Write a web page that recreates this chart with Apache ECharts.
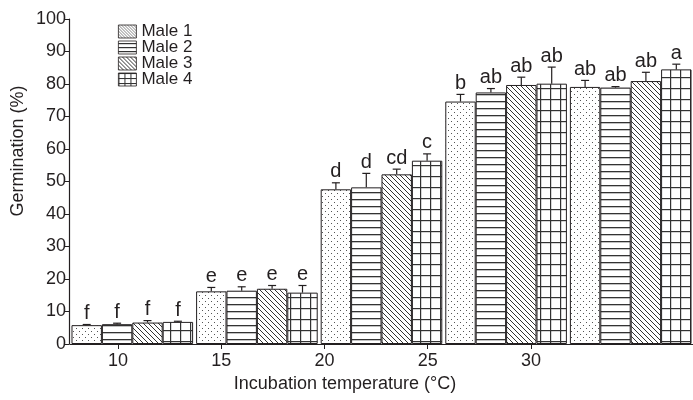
<!DOCTYPE html>
<html><head><meta charset="utf-8">
<script src="https://cdn.jsdelivr.net/npm/echarts@6/dist/echarts.min.js"></script>
<style>html,body{margin:0;padding:0;background:#fff}#c{width:693px;height:400px}</style>
</head><body><div id="c"></div>
<script>
// ---- data ----
const categories = ['10', '15', '20', '25', '30'];
const tickLabels = [10, 15, 20, 25, 30];
const seriesNames = ['Male 1', 'Male 2', 'Male 3', 'Male 4'];
const male1 = [5.8, 16.2, 47.6, 74.6, 79.1];
const male2 = [6.1, 16.4, 48.2, 77.4, 78.9];
const male3 = [6.6, 17.0, 52.2, 79.7, 80.9];
const male4 = [6.8, 15.8, 56.4, 80.1, 84.5];
const err1 = [0.2, 1.2, 2.0, 2.2, 2.0];
const err2 = [0.3, 1.2, 4.3, 1.2, 0.3];
const err3 = [0.6, 1.0, 1.6, 2.4, 2.7];
const err4 = [0.2, 2.2, 2.1, 5.1, 1.6];
const letters1 = ['f', 'e', 'd', 'b', 'ab'];
const letters2 = ['f', 'e', 'd', 'ab', 'ab'];
const letters3 = ['f', 'e', 'cd', 'ab', 'ab'];
const letters4 = ['f', 'e', 'c', 'ab', 'a'];
const xTitle = 'Incubation temperature (°C)';
const yTitle = 'Germination (%)';

const values = [male1, male2, male3, male4];
const errs = [err1, err2, err3, err4];
const letters = [letters1, letters2, letters3, letters4];

const INK = '#231f20';
const FONT = 'Liberation Sans, Arial, sans-serif';
const GAP = 0.024;

// ---- patterns ----
function makeCanvas(w, h, draw) {
  const c = document.createElement('canvas');
  c.width = w; c.height = h;
  const ctx = c.getContext('2d');
  ctx.fillStyle = '#fff'; ctx.fillRect(0, 0, w, h);
  ctx.fillStyle = INK; ctx.strokeStyle = INK;
  draw(ctx, w, h);
  return c;
}
const dots = makeCanvas(6, 6, (ctx) => {
  ctx.fillStyle = '#555';
  ctx.fillRect(1, 1, 1, 1); ctx.fillRect(4, 4, 1, 1);
});
const hlines = makeCanvas(8, 7, (ctx) => { ctx.fillStyle = '#333'; ctx.fillRect(0, 3, 8, 1.3); });
const hlinesLegend = makeCanvas(8, 4, (ctx) => { ctx.fillStyle = '#333'; ctx.fillRect(0, 2, 8, 1.2); });
function diag(step, lw, col) {
  return makeCanvas(step, step, (ctx, w, h) => {
    ctx.lineWidth = lw; ctx.strokeStyle = col;
    ctx.beginPath();
    ctx.moveTo(-w, -h); ctx.lineTo(2 * w, 2 * h);
    ctx.moveTo(-w, 0); ctx.lineTo(w, 2 * h);
    ctx.moveTo(0, -h); ctx.lineTo(2 * w, h);
    ctx.stroke();
  });
}
const diag1 = diag(5, 1, '#333');
const diagFine = diag(3, 0.8, '#666');
const diagLegend = diag(4, 1, '#333');
const gridPat = makeCanvas(10, 11, (ctx) => {
  ctx.fillStyle = '#333';
  ctx.fillRect(0, 0, 10, 1.2); ctx.fillRect(0, 0, 1.2, 11);
});
const gridLegend = makeCanvas(6, 5, (ctx) => {
  ctx.fillStyle = '#333';
  ctx.fillRect(0, 0, 6, 1); ctx.fillRect(0, 0, 1, 5);
});
const pat = (img) => ({ image: img, repeat: 'repeat' });
const barPatterns = [pat(dots), pat(hlines), pat(diag1), pat(gridPat)];
const legendPatterns = [pat(diagFine), pat(hlinesLegend), pat(diagLegend), pat(gridLegend)];

// ---- error bars + letters ----
const errData = [];
for (let s = 0; s < 4; s++) for (let c = 0; c < categories.length; c++)
  errData.push([c, s, values[s][c], errs[s][c]]);

const chart = echarts.init(document.getElementById('c'), null, { renderer: 'canvas' });
const xMin = 7.676, xMax = 37.85;

const option = {
  animation: false,
  backgroundColor: '#fff',
  textStyle: { fontFamily: FONT, color: INK },
  grid: { left: 70, right: 0, top: 19, bottom: 56, outerBoundsMode: 'none', containLabel: false },
  legend: {
    orient: 'vertical', left: 113, top: 18, itemWidth: 18, itemHeight: 13, itemGap: -1,
    textStyle: { fontSize: 17, lineHeight: 15, color: INK, fontFamily: FONT },
    data: seriesNames.map((n, i) => ({ name: n, icon: 'rect', itemStyle: { color: legendPatterns[i], borderColor: INK, borderWidth: 0.8 } }))
  },
  graphic: [{
    type: 'text', x: 18, y: 151, rotation: Math.PI / 2,
    style: { text: yTitle, fontSize: 18, fontFamily: FONT, fill: INK, align: 'center', verticalAlign: 'middle' }
  }],
  xAxis: [
    { type: 'category', data: categories, show: false },
    {
      type: 'value', position: 'bottom', min: xMin, max: xMax,
      name: xTitle, nameLocation: 'middle', nameGap: 29,
      nameTextStyle: { fontSize: 18, color: INK, padding: [0, 73, 0, 0] },
      axisLine: { show: true, lineStyle: { color: INK, width: 1.2 } },
      axisTick: { show: true, length: 5, lineStyle: { color: INK }, customValues: tickLabels },
      axisLabel: { fontSize: 18, color: INK, margin: 8, customValues: tickLabels },
      splitLine: { show: false }
    }
  ],
  yAxis: {
    type: 'value', min: 0, max: 100, interval: 10, offset: 1,
    axisLine: { show: true, lineStyle: { color: INK, width: 1.2 } },
    axisTick: { show: true, length: 5, lineStyle: { color: INK } },
    axisLabel: { fontSize: 18, color: INK, margin: 3 },
    splitLine: { show: false }
  },
  series: seriesNames.map((n, i) => ({
    name: n, type: 'bar', xAxisIndex: 0, data: values[i],
    barGap: '0%', barCategoryGap: (GAP * 100) + '%',
    itemStyle: { color: barPatterns[i], borderColor: INK, borderWidth: 1 }
  })).concat([{
    type: 'custom', xAxisIndex: 0, data: errData, z: 10,
    renderItem: function (params, api) {
      const c = api.value(0), s = api.value(1), v = api.value(2), e = api.value(3);
      const band = api.size([1, 0])[0];
      const bw = band * (1 - GAP) / 4;
      const base = api.coord([c, v]);
      const x = base[0] + (s - 1.5) * bw;
      const yTop = api.coord([c, v + e])[1];
      const cap = 4;
      return {
        type: 'group', children: [
          { type: 'line', shape: { x1: x, y1: base[1], x2: x, y2: yTop }, style: { stroke: INK, lineWidth: 1.2 } },
          { type: 'line', shape: { x1: x - cap, y1: yTop, x2: x + cap, y2: yTop }, style: { stroke: INK, lineWidth: 1.2 } },
          { type: 'text', x: x, y: yTop - 1, style: { text: letters[s][c], fill: INK, fontSize: 20, fontFamily: FONT, align: 'center', verticalAlign: 'bottom' } }
        ]
      };
    }
  }])
};
chart.setOption(option);
</script>
</body></html>
